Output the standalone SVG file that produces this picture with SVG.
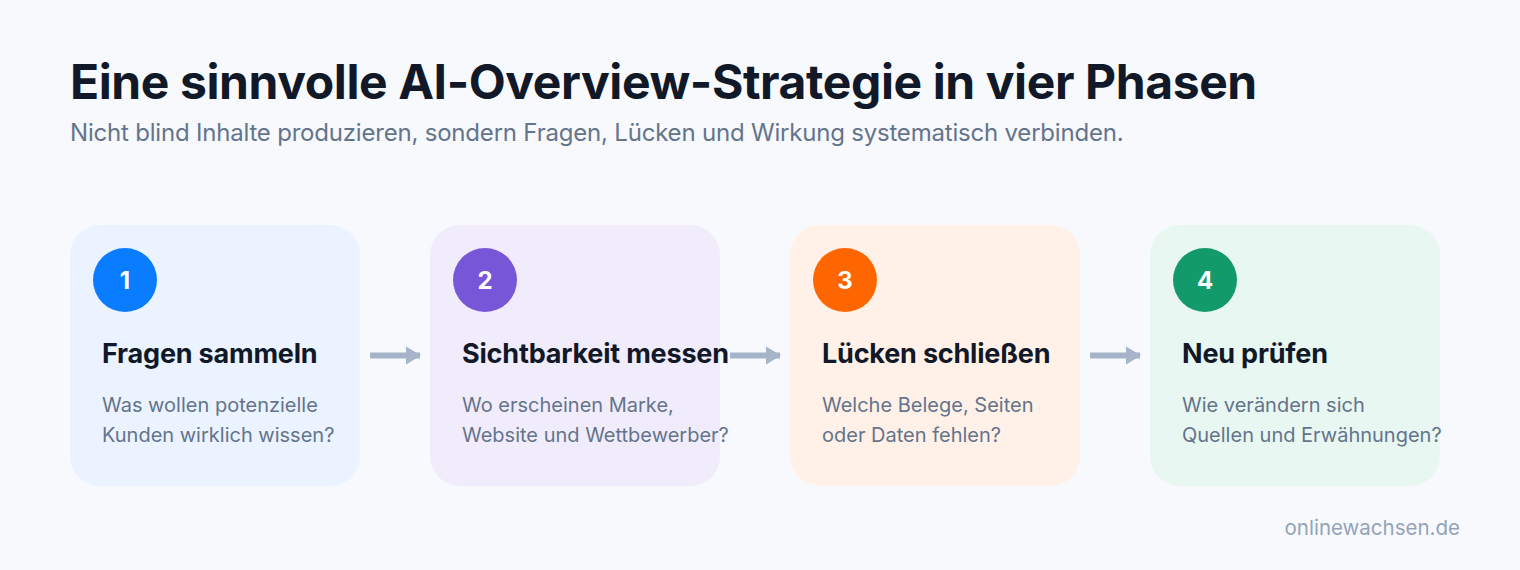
<svg xmlns="http://www.w3.org/2000/svg" width="1520" height="570" viewBox="0 0 1520 570">
  <style>
    .title { font-family: Inter, "Liberation Sans", sans-serif; font-weight: 700; font-size: 48px; letter-spacing: -0.4px; fill: #111827; }
    .subtitle { font-family: Inter, "Liberation Sans", sans-serif; font-weight: 400; font-size: 24px; letter-spacing: -0.2px; fill: #64748b; }
    .head { font-family: Inter, "Liberation Sans", sans-serif; font-weight: 700; font-size: 27px; letter-spacing: -0.2px; fill: #111827; }
    .desc { font-family: Inter, "Liberation Sans", sans-serif; font-weight: 400; font-size: 20px; fill: #64748b; }
    .num { font-family: Inter, "Liberation Sans", sans-serif; font-weight: 700; font-size: 24px; fill: #ffffff; }
    .foot { font-family: Inter, "Liberation Sans", sans-serif; font-weight: 400; font-size: 20.5px; fill: #94a3b8; }
    .conn { stroke: #a5b4c8; stroke-width: 6; fill: none; }
    .head-tip { fill: #a5b4c8; }
  </style>
  <rect width="1520" height="570" fill="#f7f9fd"/>
  <text class="title" x="70" y="99">Eine sinnvolle AI-Overview-Strategie in vier Phasen</text>
  <text class="subtitle" x="70" y="141">Nicht blind Inhalte produzieren, sondern Fragen, Lücken und Wirkung systematisch verbinden.</text>

  <g id="node1">
    <rect x="70" y="225" width="290" height="261" rx="30" fill="#eaf3ff"/>
    <circle cx="125" cy="280" r="32" fill="#0a7cff"/>
    <text class="num" x="125" y="288.5" text-anchor="middle">1</text>
    <text class="head" x="102" y="363">Fragen sammeln</text>
    <text class="desc" x="102" y="412">Was wollen potenzielle</text>
    <text class="desc" x="102" y="442">Kunden wirklich wissen?</text>
  </g>
  <g id="node2">
    <rect x="430" y="225" width="290" height="261" rx="30" fill="#f1ecfc"/>
    <circle cx="485" cy="280" r="32" fill="#7856d8"/>
    <text class="num" x="485" y="288.5" text-anchor="middle">2</text>
    <text class="head" x="462" y="363">Sichtbarkeit messen</text>
    <text class="desc" x="462" y="412">Wo erscheinen Marke,</text>
    <text class="desc" x="462" y="442">Website und Wettbewerber?</text>
  </g>
  <g id="node3">
    <rect x="790" y="225" width="290" height="261" rx="30" fill="#fff1e7"/>
    <circle cx="845" cy="280" r="32" fill="#ff6600"/>
    <text class="num" x="845" y="288.5" text-anchor="middle">3</text>
    <text class="head" x="822" y="363">Lücken schließen</text>
    <text class="desc" x="822" y="412">Welche Belege, Seiten</text>
    <text class="desc" x="822" y="442">oder Daten fehlen?</text>
  </g>
  <g id="node4">
    <rect x="1150" y="225" width="290" height="261" rx="30" fill="#e8f7f1"/>
    <circle cx="1205" cy="280" r="32" fill="#139a6a"/>
    <text class="num" x="1205" y="288.5" text-anchor="middle">4</text>
    <text class="head" x="1182" y="363">Neu prüfen</text>
    <text class="desc" x="1182" y="412">Wie verändern sich</text>
    <text class="desc" x="1182" y="442">Quellen und Erwähnungen?</text>
  </g>

  <g id="connectors">
    <line class="conn" x1="370" y1="355.5" x2="420" y2="355.5"/>
    <polygon class="head-tip" points="406,346.5 421,355.5 406,364.5"/>
    <line class="conn" x1="730" y1="355.5" x2="780" y2="355.5"/>
    <polygon class="head-tip" points="766,346.5 781,355.5 766,364.5"/>
    <line class="conn" x1="1090" y1="355.5" x2="1140" y2="355.5"/>
    <polygon class="head-tip" points="1126,346.5 1141,355.5 1126,364.5"/>
  </g>

  <text class="foot" x="1460" y="535" text-anchor="end">onlinewachsen.de</text>
</svg>
